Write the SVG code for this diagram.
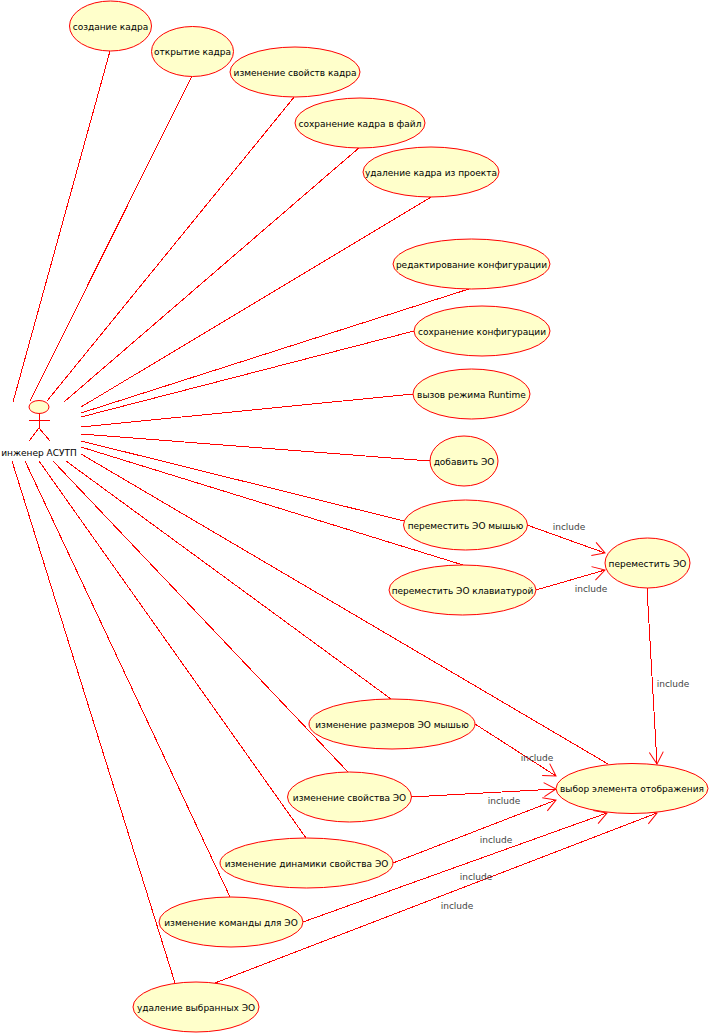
<svg xmlns="http://www.w3.org/2000/svg" width="711" height="1034" viewBox="0 0 711 1034">
<style>
.n ellipse{fill:#ffffcb;stroke:#f00;stroke-width:1}
.n text{font:9px "DejaVu Sans",sans-serif;fill:#000;text-anchor:middle}
#connectors line{stroke:#f00;stroke-width:1;fill:none;shape-rendering:crispEdges}
#connectors line.i{marker-end:url(#open)}
#actor line{stroke:#f00;stroke-width:1;shape-rendering:crispEdges}
#labels text{font:9px "DejaVu Sans",sans-serif;fill:#444;text-anchor:middle}
</style>
<defs>
<marker id="open" markerUnits="userSpaceOnUse" markerWidth="32" markerHeight="32" refX="16" refY="16" orient="auto" overflow="visible">
<path d="M4,9 L16,16 L4,23" fill="none" stroke="#f00" stroke-width="1"/>
</marker>
</defs>
<rect width="711" height="1034" fill="#fff"/>
<g id="connectors">
<line x1="13" y1="402" x2="110" y2="51"/>
<line x1="30" y1="401" x2="192" y2="76"/>
<line x1="47" y1="401" x2="295" y2="96"/>
<line x1="64" y1="402" x2="360" y2="147"/>
<line x1="81" y1="407" x2="433" y2="196"/>
<line x1="81" y1="413" x2="472" y2="288"/>
<line x1="81" y1="417" x2="414" y2="331"/>
<line x1="81" y1="427" x2="413" y2="394"/>
<line x1="81" y1="434" x2="430" y2="461"/>
<line x1="81" y1="441" x2="404" y2="521"/>
<line x1="81" y1="447" x2="463" y2="565"/>
<line x1="81" y1="454" x2="608" y2="764"/>
<line x1="66" y1="461" x2="391" y2="699"/>
<line x1="53" y1="461" x2="348" y2="772"/>
<line x1="39" y1="461" x2="306" y2="838"/>
<line x1="25" y1="461" x2="231" y2="899"/>
<line x1="12" y1="461" x2="175" y2="983"/>
<line class="i" x1="527" y1="525" x2="605" y2="553"/>
<line class="i" x1="536" y1="590" x2="605" y2="570"/>
<line class="i" x1="647" y1="588" x2="657" y2="764"/>
<line class="i" x1="475" y1="724" x2="556" y2="776"/>
<line class="i" x1="411" y1="797" x2="556" y2="789"/>
<line class="i" x1="393" y1="863" x2="556" y2="800"/>
<line class="i" x1="303" y1="922" x2="607" y2="813"/>
<line class="i" x1="215" y1="983" x2="657" y2="813"/>
</g>
<g id="labels">
<text x="569" y="530">include</text>
<text x="591" y="592">include</text>
<text x="673" y="687">include</text>
<text x="537" y="761">include</text>
<text x="504" y="804">include</text>
<text x="496" y="843">include</text>
<text x="476" y="880">include</text>
<text x="457" y="909">include</text>
</g>
<g id="actor" class="n">
<ellipse cx="39" cy="407" rx="10" ry="6.5"/>
<line x1="39" y1="413" x2="39" y2="429"/>
<line x1="29" y1="420" x2="50" y2="420"/>
<line x1="39" y1="428" x2="29" y2="441"/>
<line x1="39" y1="428" x2="50" y2="441"/>
<text x="39" y="456">инженер АСУТП</text>
</g>
<g id="n1" class="n"><ellipse cx="110.500" cy="26" rx="41" ry="25"/><text x="110.500" y="30">создание кадра</text></g>
<g id="n2" class="n"><ellipse cx="192.500" cy="51.500" rx="41" ry="25"/><text x="192.500" y="55">открытие кадра</text></g>
<g id="n3" class="n"><ellipse cx="295" cy="72" rx="65" ry="25"/><text x="295" y="76">изменение свойств кадра</text></g>
<g id="n4" class="n"><ellipse cx="360" cy="123" rx="65" ry="25"/><text x="360" y="127">сохранение кадра в файл</text></g>
<g id="n5" class="n"><ellipse cx="431" cy="172" rx="68" ry="25"/><text x="431" y="176">удаление кадра из проекта</text></g>
<g id="n6" class="n"><ellipse cx="471.500" cy="264" rx="78.500" ry="25"/><text x="471.500" y="268">редактирование конфигурации</text></g>
<g id="n7" class="n"><ellipse cx="482" cy="331" rx="68" ry="25"/><text x="482" y="335">сохранение конфигурации</text></g>
<g id="n8" class="n"><ellipse cx="471.500" cy="394" rx="58.500" ry="25"/><text x="471.500" y="398">вызов режима Runtime</text></g>
<g id="n9" class="n"><ellipse cx="464" cy="461" rx="34" ry="25"/><text x="464" y="465">добавить ЭО</text></g>
<g id="n10" class="n"><ellipse cx="465.500" cy="525" rx="62" ry="25"/><text x="465.500" y="529">переместить ЭО мышью</text></g>
<g id="n11" class="n"><ellipse cx="462.500" cy="590" rx="73.500" ry="25"/><text x="462.500" y="594">переместить ЭО клавиатурой</text></g>
<g id="n12" class="n"><ellipse cx="647.500" cy="563" rx="42.500" ry="25"/><text x="647.500" y="567">переместить ЭО</text></g>
<g id="n13" class="n"><ellipse cx="392" cy="724" rx="83" ry="25"/><text x="392" y="728">изменение размеров ЭО мышью</text></g>
<g id="n14" class="n"><ellipse cx="349.500" cy="797" rx="62" ry="25"/><text x="349.500" y="801">изменение свойства ЭО</text></g>
<g id="n15" class="n"><ellipse cx="306.500" cy="863" rx="86.500" ry="25"/><text x="306.500" y="867">изменение динамики свойства ЭО</text></g>
<g id="n16" class="n"><ellipse cx="231" cy="922" rx="72" ry="25"/><text x="231" y="926">изменение команды для ЭО</text></g>
<g id="n17" class="n"><ellipse cx="196" cy="1007" rx="63" ry="25"/><text x="196" y="1011">удаление выбранных ЭО</text></g>
<g id="n18" class="n"><ellipse cx="632" cy="788.500" rx="76" ry="25"/><text x="632" y="792">выбор элемента отображения</text></g>
</svg>
